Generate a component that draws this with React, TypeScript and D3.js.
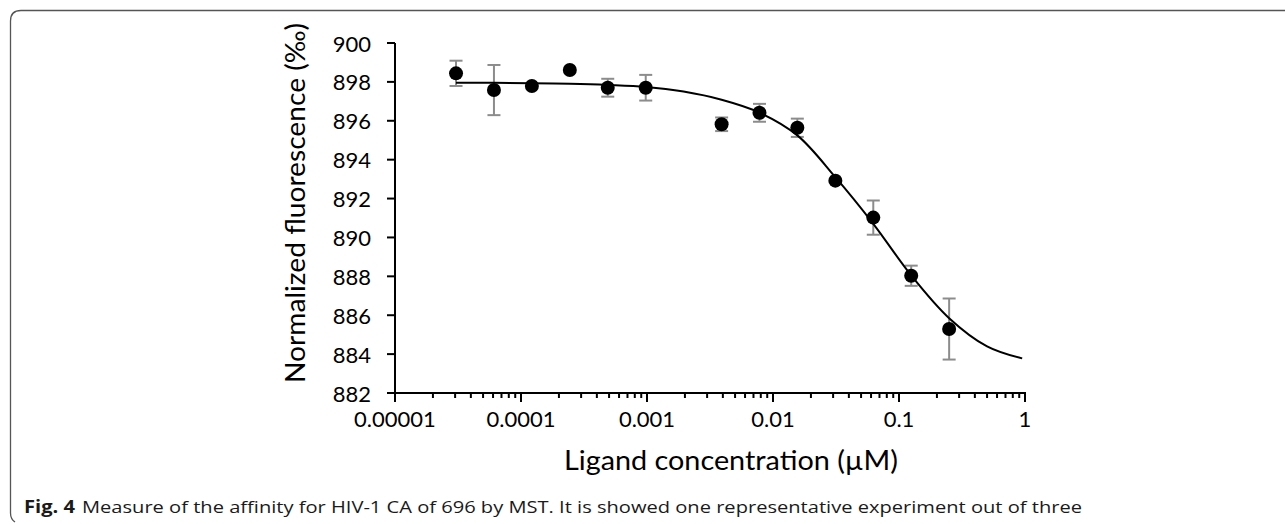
import React from "react";
import * as d3 from "d3";

const concentrations = [3.05e-5, 6.1e-5, 1.22e-4, 2.44e-4, 4.88e-4, 9.77e-4, 3.91e-3, 7.81e-3, 0.0156, 0.03125, 0.0625, 0.125, 0.25];
const fluorescence = [898.44, 897.58, 897.79, 898.61, 897.7, 897.7, 895.82, 896.41, 895.64, 892.92, 891.02, 888.03, 885.29];
const errors = [0.65, 1.29, 0, 0, 0.46, 0.66, 0.35, 0.46, 0.47, 0, 0.88, 0.52, 1.57];

const fitConcentrations = [3.05e-5, 6.1e-5, 1.22e-4, 2.44e-4, 4.88e-4, 9.77e-4, 1.95e-3, 3.91e-3, 7.81e-3, 0.0156, 0.03125, 0.0625, 0.125, 0.25, 0.5, 0.95];
const fitValues = [897.96, 897.95, 897.93, 897.9, 897.84, 897.74, 897.5, 897.08, 896.42, 895.25, 893.1, 890.7, 888.05, 885.85, 884.4, 883.78];

const yTicks = [882, 884, 886, 888, 890, 892, 894, 896, 898, 900];
const xTickValues = [1e-5, 1e-4, 1e-3, 1e-2, 1e-1, 1];
const xTickLabels = ["0.00001", "0.0001", "0.001", "0.01", "0.1", "1"];

const xTitle = "Ligand concentration (\u00b5M)";
const yTitle = "Normalized fluorescence (\u2030)";
const captionBold = "Fig. 4";
const captionText = "Measure of the affinity for HIV-1 CA of 696 by MST. It is showed one representative experiment out of three";

const W = 1285;
const H = 524;
const FONT = "Lato, 'Open Sans', sans-serif";

export default function App() {
  const x = d3.scaleLog().domain([1e-5, 1]).range([395, 1025]);
  const y = d3.scaleLinear().domain([882, 900]).range([393, 43]);

  const minorTicks: number[] = [];
  for (let i = 0; i < xTickValues.length - 1; i++) {
    for (let k = 2; k <= 9; k++) minorTicks.push(xTickValues[i] * k);
  }

  const fitData = fitConcentrations.map((c, i) => [c, fitValues[i]] as [number, number]);
  const line = d3
    .line<[number, number]>()
    .x((d) => x(d[0]))
    .y((d) => y(d[1]))
    .curve(d3.curveCatmullRom.alpha(0.5));

  const points = concentrations.map((c, i) => ({ c, v: fluorescence[i], e: errors[i] }));
  const x0 = x.range()[0];
  const x1 = x.range()[1];
  const yBottom = y(882);
  const yTop = y(900);

  return (
    <svg
      width={W}
      height={H}
      style={{ position: "absolute", left: 0, top: 0, background: "#fff" }}
    >
      {/* frame */}
      <path
        d={`M ${W + 2} 10.5 L 21 10.5 Q 10.5 10.5 10.5 21 L 10.5 513 Q 10.5 519 15 522`}
        fill="none"
        stroke="#555"
        strokeWidth={1.3}
      />

      {/* error bars */}
      {points
        .filter((p) => p.e > 0)
        .map((p, i) => {
          const cx = x(p.c);
          const ya = y(p.v + p.e);
          const yb = y(p.v - p.e);
          return (
            <g key={"e" + i} stroke="#8c8c8c" strokeWidth={2}>
              <line x1={cx} x2={cx} y1={ya} y2={yb} />
              <line x1={cx - 6.5} x2={cx + 6.5} y1={ya} y2={ya} />
              <line x1={cx - 6.5} x2={cx + 6.5} y1={yb} y2={yb} />
            </g>
          );
        })}

      {/* fit curve */}
      <path d={line(fitData) || ""} fill="none" stroke="#000" strokeWidth={2} />

      {/* markers */}
      {points.map((p, i) => (
        <circle key={"p" + i} cx={x(p.c)} cy={y(p.v)} r={7} fill="#000" />
      ))}

      {/* y axis */}
      <line x1={x0} x2={x0} y1={yTop} y2={yBottom + 9} stroke="#000" strokeWidth={2} />
      {yTicks.map((t) => (
        <g key={"yt" + t}>
          <line x1={x0 - 8} x2={x0} y1={y(t)} y2={y(t)} stroke="#000" strokeWidth={2} />
          <text
            x={371}
            y={y(t)}
            textAnchor="end"
            dominantBaseline="central"
            fontFamily={FONT}
            fontSize={22}
            fill="#000"
          >
            {t}
          </text>
        </g>
      ))}

      {/* x axis */}
      <line x1={x0 - 8} x2={x1 + 1} y1={yBottom} y2={yBottom} stroke="#000" strokeWidth={2} />
      {minorTicks.map((t, i) => (
        <line key={"mt" + i} x1={x(t)} x2={x(t)} y1={yBottom} y2={yBottom + 5} stroke="#000" strokeWidth={2} />
      ))}
      {xTickValues.map((t, i) => (
        <g key={"xt" + i}>
          <line x1={x(t)} x2={x(t)} y1={yBottom} y2={yBottom + 9} stroke="#000" strokeWidth={2} />
          <text
            x={x(t)}
            y={427}
            textAnchor="middle"
            fontFamily={FONT}
            fontSize={22}
            fill="#000"
          >
            {xTickLabels[i]}
          </text>
        </g>
      ))}

      {/* axis titles */}
      <text
        x={731}
        y={470}
        textAnchor="middle"
        fontFamily={FONT}
        fontSize={27}
        fill="#000"
        textLength={334}
        lengthAdjust="spacingAndGlyphs"
      >
        {xTitle}
      </text>
      <text
        transform={`translate(305, 203) rotate(-90)`}
        textAnchor="middle"
        fontFamily={FONT}
        fontSize={27}
        fill="#000"
        textLength={360}
        lengthAdjust="spacingAndGlyphs"
      >
        {yTitle}
      </text>

      {/* caption */}
      <text
        x={24}
        y={513}
        fontFamily="'Open Sans', sans-serif"
        fontSize={18}
        fontWeight={700}
        fill="#1a1a1a"
        textLength={51}
        lengthAdjust="spacingAndGlyphs"
      >
        {captionBold}
      </text>
      <text
        x={82}
        y={513}
        fontFamily="'Open Sans', sans-serif"
        fontSize={17}
        fill="#1a1a1a"
        textLength={1000}
        lengthAdjust="spacingAndGlyphs"
      >
        {captionText}
      </text>
    </svg>
  );
}
